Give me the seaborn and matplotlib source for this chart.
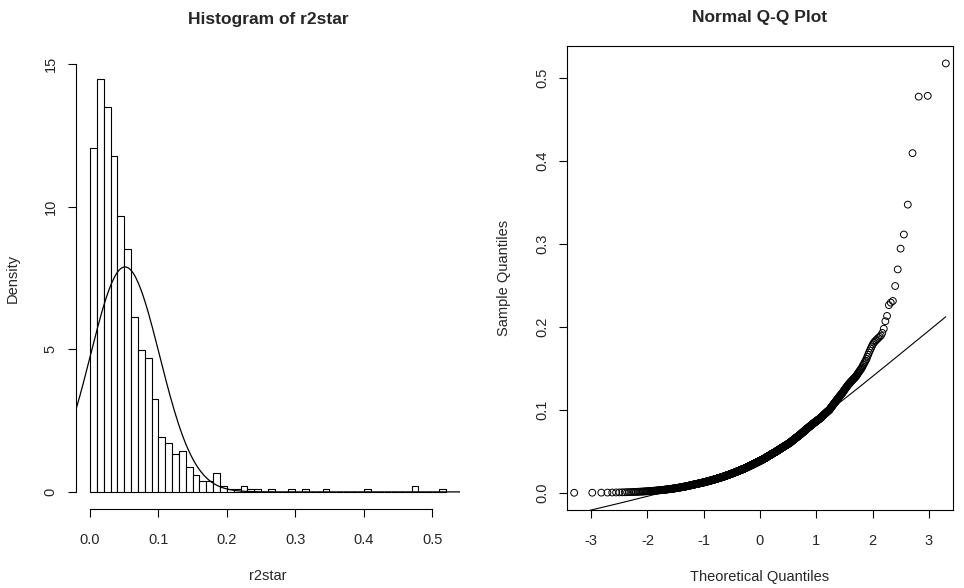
import numpy as np
import pandas as pd
import matplotlib
matplotlib.use("Agg")
import matplotlib.pyplot as plt
import seaborn as sns
from statistics import NormalDist

# ---- data ----
bin_width = 0.01
# counts per 0.01-wide bin, 0.00-0.20
main_counts = [126, 151, 141, 123, 101, 89, 64, 52, 49, 34,
               20, 18, 14, 15, 9, 6, 4, 4, 7, 2]
# individual upper-tail observations (> 0.20)
tail_values = [0.2066, 0.213, 0.226, 0.229, 0.231, 0.249, 0.269,
               0.294, 0.311, 0.347, 0.409, 0.477, 0.478, 0.517]
hist_xticks = [0.0, 0.1, 0.2, 0.3, 0.4, 0.5]
hist_yticks = [0, 5, 10, 15]
qq_xticks = [-3, -2, -1, 0, 1, 2, 3]
qq_yticks = [0.0, 0.1, 0.2, 0.3, 0.4, 0.5]

# rebuild observations: spread each bin's count across the bin
obs = []
for i, c in enumerate(main_counts):
    lo = i * bin_width
    obs.extend(lo + (np.arange(c) + 0.5) / c * bin_width)
obs.extend(tail_values)
r2star = np.sort(np.array(obs))
n = len(r2star)
mu, sd = r2star.mean(), r2star.std(ddof=1)
nd = NormalDist()
theo = np.array([nd.inv_cdf((i - 0.5) / n) for i in range(1, n + 1)])
df = pd.DataFrame({"r2star": r2star, "theo": theo})


def lowess(x, y, f=2 / 3, iters=3):
    """Cleveland's robust locally weighted regression (as R's lowess)."""
    x = np.asarray(x, float)
    y = np.asarray(y, float)
    m = len(x)
    ns = max(min(int(f * m + 1e-7), m), 2)
    d = np.abs(x[None, :] - x[:, None])
    h = np.partition(d, ns - 1, axis=1)[:, ns - 1][:, None]
    r = d / h
    w0 = np.where(r < 0.999, (1 - np.clip(r, 0, 1) ** 3) ** 3, 0.0)
    w0 = np.where(r <= 0.001, 1.0, w0)
    rw = np.ones(m)
    fit = np.zeros(m)
    for it in range(iters + 1):
        w = w0 * rw[None, :]
        sw = w.sum(1)
        xb = (w * x[None, :]).sum(1) / sw
        yb = (w * y[None, :]).sum(1) / sw
        dx = x[None, :] - xb[:, None]
        sxx = (w * dx * dx).sum(1)
        sxy = (w * dx * y[None, :]).sum(1)
        b = np.where(sxx > 1e-12, sxy / np.where(sxx > 0, sxx, 1), 0.0)
        fit = yb + b * (x - xb)
        if it == iters:
            break
        res = y - fit
        cmad = 6 * np.median(np.abs(res))
        u = np.abs(res) / cmad
        rw = np.where(u < 0.999, (1 - np.clip(u, 0, 1) ** 2) ** 2, 0.0)
        rw = np.where(u <= 0.001, 1.0, rw)
    return fit


sns.set_style("white")
plt.rcParams["font.family"] = ["Liberation Sans", "DejaVu Sans"]

fig = plt.figure(figsize=(9.64, 5.88), dpi=100)
W, H = 964, 588
def axes_px(l, r, t, b):
    return fig.add_axes([l / W, 1 - b / H, (r - l) / W, (b - t) / H])

ax1 = axes_px(75.8, 460, 47.2, 509)
ax2 = axes_px(567, 953, 46, 510)

# ---- histogram ----
sns.histplot(data=df, x="r2star", stat="density", binwidth=bin_width,
             binrange=(0, 0.52), color="white", edgecolor="black",
             linewidth=0.8, alpha=1, ax=ax1)
x0, x1 = -0.0208, 0.5408
ax1.set_xlim(x0, x1)
ax1.set_ylim(-0.6, 15.6)
xs = np.linspace(x0, x1, 301)
curve = pd.DataFrame({"x": xs, "y": [NormalDist(mu, sd).pdf(v) for v in xs]})
sns.lineplot(data=curve, x="x", y="y", color="black", linewidth=0.9, ax=ax1)
ax1.set_xticks(hist_xticks)
ax1.set_xticklabels([f"{v:.1f}" for v in hist_xticks])
ax1.set_yticks(hist_yticks)
ax1.set_yticklabels([str(v) for v in hist_yticks], rotation=90, va="center")
for s in ["top", "right"]:
    ax1.spines[s].set_visible(False)
ax1.spines["left"].set_bounds(0, 15)
ax1.spines["bottom"].set_bounds(0, 0.5)
ax1.set_title("Histogram of r2star", fontsize=12.5, fontweight="bold", pad=17)
ax1.set_xlabel("r2star", fontsize=10.5, labelpad=16)
ax1.set_ylabel("Density", fontsize=10.5, labelpad=17)

# ---- QQ plot ----
sns.scatterplot(data=df, x="theo", y="r2star", marker="o", s=24,
                facecolors="none", edgecolor="black", linewidth=0.7, ax=ax2)
qx0, qx1 = -3.43, 3.43
ax2.set_xlim(qx0, qx1)
ax2.set_ylim(-0.0207, 0.538)
smooth = pd.DataFrame({"x": theo, "y": lowess(theo, r2star)})
sns.lineplot(data=smooth, x="x", y="y", color="black", linewidth=0.8,
             sort=False, estimator=None, ax=ax2)
ax2.set_xticks(qq_xticks)
ax2.set_xticklabels([str(v) for v in qq_xticks])
ax2.set_yticks(qq_yticks)
ax2.set_yticklabels([f"{v:.1f}" for v in qq_yticks], rotation=90, va="center")
for s in ax2.spines.values():
    s.set_visible(True)
    s.set_linewidth(0.8)
    s.set_color("black")
ax2.set_title("Normal Q-Q Plot", fontsize=12.5, fontweight="bold", pad=17)
ax2.set_xlabel("Theoretical Quantiles", fontsize=10.5, labelpad=16)
ax2.set_ylabel("Sample Quantiles", fontsize=10.5, labelpad=17)

for ax in (ax1, ax2):
    ax.tick_params(axis="both", which="both", direction="out", length=6,
                   width=0.8, color="black", labelsize=10.5,
                   bottom=True, left=True, top=False, right=False)
    ax.tick_params(axis="x", pad=11)
    ax.tick_params(axis="y", pad=7)
    for s in ["left", "bottom"]:
        ax.spines[s].set_linewidth(0.8)
        ax.spines[s].set_color("black")

fig.savefig("out.png", dpi=100, facecolor="white")
